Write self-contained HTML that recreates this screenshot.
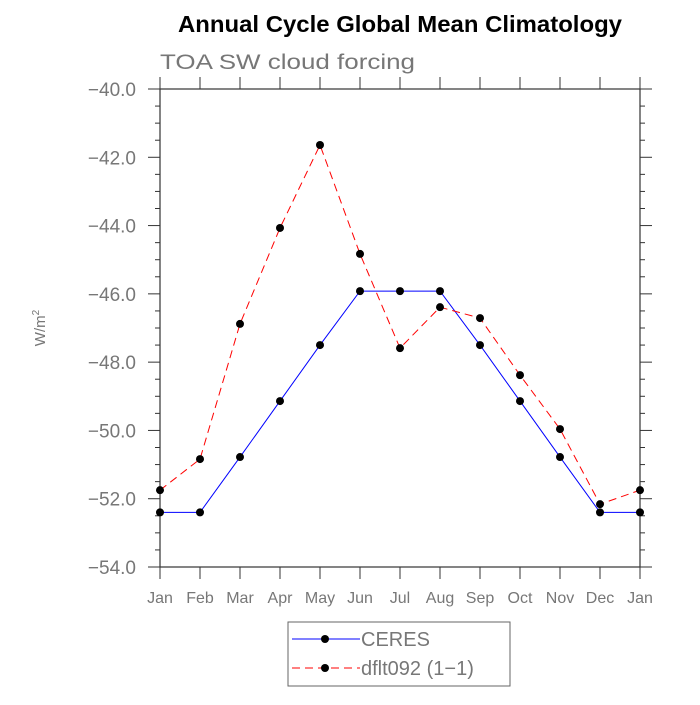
<!DOCTYPE html>
<html><head><meta charset="utf-8"><style>
body{margin:0;background:#fff;}
svg text{font-family:"Liberation Sans",sans-serif;}
</style></head><body>
<svg id="chart" width="700" height="700" xmlns="http://www.w3.org/2000/svg">
<text x="400" y="32" text-anchor="middle" font-size="23" font-weight="bold" fill="#000" textLength="444" lengthAdjust="spacingAndGlyphs">Annual Cycle Global Mean Climatology</text>
<text x="160" y="69" font-size="21" fill="#777" textLength="255" lengthAdjust="spacingAndGlyphs">TOA SW cloud forcing</text>
<text transform="translate(45,328) rotate(-90)" text-anchor="middle" font-size="15" fill="#777">W/m<tspan dy="-6" font-size="10">2</tspan></text>
<g id="axes"></g>
<g id="series"></g>
<g>
<rect x="288" y="622" width="222" height="64" fill="#fff" stroke="#666"/>
<g>
<line x1="292" y1="639" x2="360" y2="639" stroke="#00f" stroke-width="1"/>
<circle cx="325" cy="639" r="4" fill="#000"/>
<text x="361" y="646" font-size="20" fill="#777">CERES</text></g>
<g>
<line x1="292" y1="668" x2="360" y2="668" stroke="#f00" stroke-width="1" stroke-dasharray="8,5"/>
<circle cx="325" cy="668" r="4" fill="#000"/>
<text x="361" y="675" font-size="20" fill="#777">dflt092 (1−1)</text></g>
</g>
</svg>
<script>
const months=["Jan","Feb","Mar","Apr","May","Jun","Jul","Aug","Sep","Oct","Nov","Dec","Jan"];
const ceres=[-52.4,-52.4,-50.78,-49.14,-47.5,-45.92,-45.92,-45.92,-47.5,-49.14,-50.78,-52.4,-52.4];
const dflt=[-51.75,-50.84,-46.88,-44.07,-41.64,-44.83,-47.59,-46.39,-46.71,-48.38,-49.96,-52.16,-51.75];
const yTicks=[-40,-42,-44,-46,-48,-50,-52,-54];
const X0=160,X1=640,Y0=89,Y1=567,YMAX=-40,YMIN=-54;
const sx=i=>X0+i*(X1-X0)/(months.length-1);
const sy=v=>Y0+(YMAX-v)/(YMAX-YMIN)*(Y1-Y0);
const NS="http://www.w3.org/2000/svg";
function mk(tag,attrs,parent){const e=document.createElementNS(NS,tag);for(const k in attrs)e.setAttribute(k,attrs[k]);parent.appendChild(e);return e;}
const ax=document.getElementById('axes');
const frame=mk('rect',{x:X0,y:Y0,width:X1-X0,height:Y1-Y0,fill:'none',stroke:'#333','stroke-width':1.2},ax);


for(let v=YMAX;v>=YMIN-0.001;v-=0.5){
  const major=Math.abs(v/2-Math.round(v/2))<1e-6;const L=major?12:5;const y=sy(v);
  mk('line',{x1:X0-L,y1:y,x2:X0,y2:y,stroke:'#333'},ax);
  mk('line',{x1:X1,y1:y,x2:X1+L,y2:y,stroke:'#333'},ax);
}
yTicks.forEach(v=>{
  const t=mk('text',{x:136,y:sy(v)+7,'text-anchor':'end','font-size':19,fill:'#777'},ax);
  t.textContent='−'+Math.abs(v).toFixed(1);
  
  
});
months.forEach((m,i)=>{
  const x=sx(i);
  mk('line',{x1:x,y1:Y1,x2:x,y2:Y1+12,stroke:'#333'},ax);
  mk('line',{x1:x,y1:Y0-12,x2:x,y2:Y0,stroke:'#333'},ax);
  const t=mk('text',{x:x,y:603,'text-anchor':'middle','font-size':16,fill:'#777'},ax);
  t.textContent=m;
  
  
});
const sg=document.getElementById('series');
function series(vals,color,dash,name){
  const g=mk('g',{},sg);
  
  
  const a={points:vals.map((v,i)=>sx(i)+','+sy(v)).join(' '),fill:'none',stroke:color,'stroke-width':1};
  if(dash)a['stroke-dasharray']=dash;
  mk('polyline',a,g);
  vals.forEach((v,i)=>{const c=mk('circle',{cx:sx(i),cy:sy(v),r:4,fill:'#000'},g);
    
    });
}
series(ceres,'#00f',null,'series-ceres');
series(dflt,'#f00','8,5','series-dflt092');
</script>
</body></html>
